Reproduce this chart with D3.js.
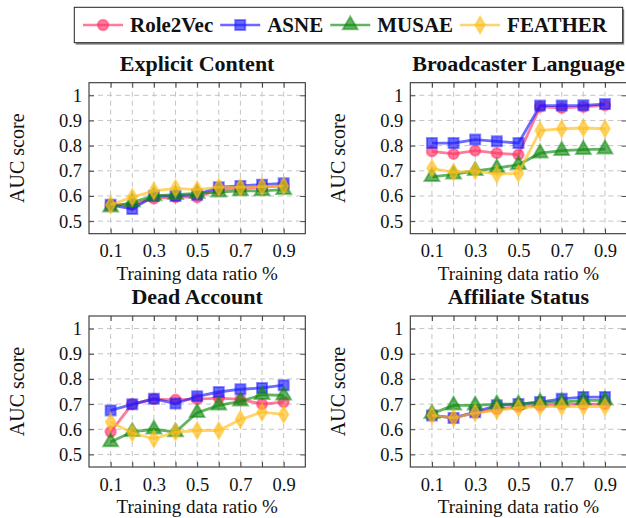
<!DOCTYPE html>
<html>
<head>
<meta charset="utf-8">
<script src="https://cdn.jsdelivr.net/npm/d3@7"></script>
<style>
  body { margin: 0; background: #fff; }
  svg { display: block; }
  text { font-family: "Liberation Serif", "DejaVu Serif", serif; fill: #111; }
</style>
</head>
<body>
<svg id="chart" width="626" height="518"></svg>
<script>
const ratios = [0.1, 0.2, 0.3, 0.4, 0.5, 0.6, 0.7, 0.8, 0.9]
const methods = ['Role2Vec', 'ASNE', 'MUSAE', 'FEATHER']
const xTickLabels = [0.1, 0.3, 0.5, 0.7, 0.9]
const yTickLabels = [0.5, 0.6, 0.7, 0.8, 0.9, 1]
const panelTitles = ['Explicit Content', 'Broadcaster Language', 'Dead Account', 'Affiliate Status']

// values per method, in the order of methods
const explicitContent = [
    [0.565, 0.565, 0.59, 0.595, 0.595, 0.625, 0.63, 0.635, 0.64],
    [0.565, 0.548, 0.60, 0.60, 0.605, 0.635, 0.64, 0.645, 0.65],
    [0.555, 0.575, 0.60, 0.605, 0.61, 0.615, 0.62, 0.62, 0.625],
    [0.565, 0.595, 0.62, 0.63, 0.625, 0.635, 0.635, 0.637, 0.64]
]
const broadcasterLanguage = [
    [0.777, 0.767, 0.78, 0.77, 0.764, 0.954, 0.95, 0.954, 0.96],
    [0.81, 0.81, 0.824, 0.817, 0.81, 0.959, 0.959, 0.96, 0.965],
    [0.676, 0.686, 0.70, 0.711, 0.724, 0.77, 0.78, 0.784, 0.786],
    [0.71, 0.694, 0.70, 0.687, 0.69, 0.86, 0.867, 0.87, 0.867]
]
const deadAccount = [
    [0.59, 0.70, 0.72, 0.717, 0.72, 0.724, 0.719, 0.70, 0.708],
    [0.675, 0.699, 0.721, 0.702, 0.731, 0.748, 0.759, 0.764, 0.775],
    [0.549, 0.59, 0.60, 0.589, 0.666, 0.695, 0.711, 0.737, 0.735],
    [0.629, 0.585, 0.562, 0.589, 0.595, 0.595, 0.639, 0.668, 0.659]
]
const affiliateStatus = [
    [0.655, 0.645, 0.665, 0.68, 0.69, 0.695, 0.70, 0.70, 0.70],
    [0.655, 0.645, 0.668, 0.695, 0.70, 0.708, 0.721, 0.728, 0.728],
    [0.662, 0.695, 0.695, 0.70, 0.70, 0.708, 0.708, 0.715, 0.715],
    [0.655, 0.645, 0.665, 0.675, 0.685, 0.69, 0.69, 0.69, 0.69]
]
const panelData = [explicitContent, broadcasterLanguage, deadAccount, affiliateStatus]

const colors = ['#ff3366', '#1a1aff', '#108a10', '#ffbf1a']
const symbols = [d3.symbolCircle, d3.symbolSquare, d3.symbolTriangle, d3.symbolDiamond]
const symbolSizes = [85, 100, 95, 80]

const svg = d3.select('#chart')

const plotW = 216.3
const plotH = 151
const origins = [[89, 82.7], [410.3, 82.7], [89, 316], [410.3, 316]]

const x = d3.scaleLinear().domain([0, 1]).range([0, plotW])
const y = d3.scaleLinear().domain([0.45, 1.05]).range([plotH, 0])

panelData.forEach((series, p) => {
    const [ox, oy] = origins[p]
    const g = svg.append('g').attr('transform', `translate(${ox},${oy})`)

    // dashed grid
    g.append('g').selectAll('line').data(ratios).enter().append('line')
        .attr('x1', d => x(d)).attr('x2', d => x(d))
        .attr('y1', 0).attr('y2', plotH)
        .attr('stroke', '#c4c4c4').attr('stroke-dasharray', '5,4')
    g.append('g').selectAll('line').data(yTickLabels).enter().append('line')
        .attr('x1', 0).attr('x2', plotW)
        .attr('y1', d => y(d)).attr('y2', d => y(d))
        .attr('stroke', '#c4c4c4').attr('stroke-dasharray', '5,4')

    // inward ticks on all four sides
    const tickStyle = s => s.select('.domain').remove()
    g.append('g').attr('transform', `translate(0,${plotH})`)
        .call(d3.axisBottom(x).tickValues(ratios).tickSize(-5).tickFormat(''))
        .call(tickStyle)
    g.append('g')
        .call(d3.axisTop(x).tickValues(ratios).tickSize(-5).tickFormat(''))
        .call(tickStyle)
    g.append('g')
        .call(d3.axisLeft(y).tickValues(yTickLabels).tickSize(-5).tickFormat(''))
        .call(tickStyle)
    g.append('g').attr('transform', `translate(${plotW},0)`)
        .call(d3.axisRight(y).tickValues(yTickLabels).tickSize(-5).tickFormat(''))
        .call(tickStyle)
    g.selectAll('.tick line').attr('stroke', '#444')

    // tick labels
    g.append('g').attr('transform', `translate(0,${plotH})`)
        .call(d3.axisBottom(x).tickValues(xTickLabels).tickSize(0).tickPadding(7).tickFormat(d3.format('.1f')))
        .call(s => s.select('.domain').remove())
        .selectAll('text').attr('font-size', '18.5px').attr('fill', '#111')
        .attr('dy', '0.9em')
    g.append('g')
        .call(d3.axisLeft(y).tickValues(yTickLabels).tickSize(0).tickPadding(7).tickFormat(d => d === 1 ? '1' : d3.format('.1f')(d)))
        .call(s => s.select('.domain').remove())
        .selectAll('text').attr('font-size', '18.5px').attr('fill', '#111')

    // frame
    g.append('rect').attr('width', plotW).attr('height', plotH)
        .attr('fill', 'none').attr('stroke', '#333').attr('stroke-width', 1.1)

    // series
    const line = d3.line().x((d, i) => x(ratios[i])).y(d => y(d))
    series.forEach((vals, m) => {
        const sg = g.append('g')
        sg.append('path').datum(vals).attr('d', line)
            .attr('fill', 'none').attr('stroke', colors[m])
            .attr('stroke-width', 2.8).attr('stroke-opacity', 0.65)
        sg.selectAll('path.mark').data(vals).enter().append('path').attr('class', 'mark')
            .attr('transform', (d, i) => `translate(${x(ratios[i])},${y(d)})`)
            .attr('d', d3.symbol().type(symbols[m]).size(symbolSizes[m]))
            .attr('fill', colors[m]).attr('fill-opacity', 0.65)
            .attr('stroke', colors[m]).attr('stroke-opacity', 0.5).attr('stroke-width', 2)
    })

    // title and axis labels
    g.append('text').attr('x', plotW / 2).attr('y', -12)
        .attr('text-anchor', 'middle').attr('font-size', '22px').attr('font-weight', 'bold')
        .text(panelTitles[p])
    g.append('text').attr('x', plotW / 2).attr('y', plotH + 46)
        .attr('text-anchor', 'middle').attr('font-size', '19px')
        .text('Training data ratio %')
    g.append('text').attr('transform', `translate(-65,${plotH / 2}) rotate(-90)`)
        .attr('text-anchor', 'middle').attr('font-size', '20px')
        .text('AUC score')
})

// legend
const legend = svg.append('g')
const lx0 = 74.3, ly0 = 7.3, lx1 = 622.7, ly1 = 42.7
legend.append('rect').attr('x', lx0 + 1.5).attr('y', ly0 + 2).attr('width', lx1 - lx0).attr('height', ly1 - ly0)
    .attr('fill', '#888')
legend.append('rect').attr('x', lx0).attr('y', ly0).attr('width', lx1 - lx0).attr('height', ly1 - ly0)
    .attr('fill', '#fff').attr('stroke', '#222').attr('stroke-width', 1)

let cx = 83
const cy = (ly0 + ly1) / 2
methods.forEach((name, m) => {
    const item = legend.append('g')
    item.append('line').attr('x1', cx).attr('x2', cx + 40).attr('y1', cy).attr('y2', cy)
        .attr('stroke', colors[m]).attr('stroke-width', 2.6).attr('stroke-opacity', 0.65)
    item.append('path').attr('transform', `translate(${cx + 20},${cy})`)
        .attr('d', d3.symbol().type(symbols[m]).size(symbolSizes[m]))
        .attr('fill', colors[m]).attr('fill-opacity', 0.65)
        .attr('stroke', colors[m]).attr('stroke-opacity', 0.5).attr('stroke-width', 2)
    const t = item.append('text').attr('x', cx + 47).attr('y', cy + 7)
        .attr('font-size', '21px').attr('font-weight', 'bold').text(name)
    cx = cx + 47 + t.node().getComputedTextLength() + 7
})
</script>
</body>
</html>
